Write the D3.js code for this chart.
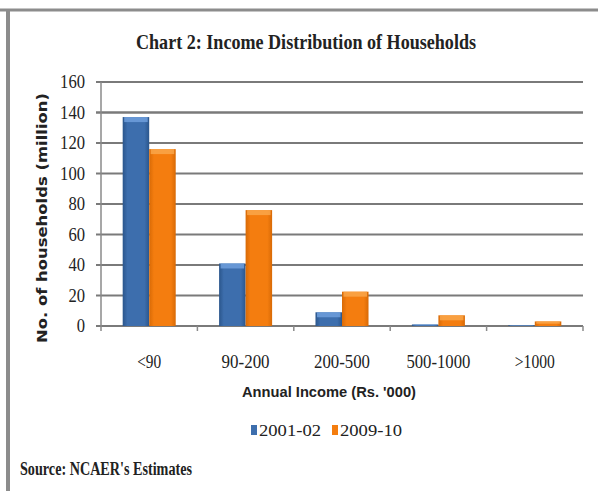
<!DOCTYPE html>
<html>
<head>
<meta charset="utf-8">
<script src="https://cdn.jsdelivr.net/npm/d3@7"></script>
<style>
  body { margin: 0; background: #fff; }
  svg { display: block; }
</style>
</head>
<body>
<div id="chart"></div>
<script>
// chart data
const categories = ["<90", "90-200", "200-500", "500-1000", ">1000"];
const seriesNames = ["2001-02", "2009-10"];
const values2001 = [137, 41, 9, 1, 0.5];
const values2009 = [116, 76, 22.5, 7, 3];
const yTicks = [0, 20, 40, 60, 80, 100, 120, 140, 160];

const W = 598, H = 491;
const margin = {top: 82, right: 15, bottom: 165, left: 101};

const svg = d3.select("#chart").append("svg")
    .attr("width", W)
    .attr("height", H);

// gradients for the bevelled bars
const defs = svg.append("defs");
const palette = [
  {id: "gBlue", edge: "#2b568c", mid: "#3d6ead", cap: "#6f9fdc"},
  {id: "gOrange", edge: "#d86a06", mid: "#f47d0f", cap: "#f9a64a"}
];
palette.forEach(p => {
  const g = defs.append("linearGradient").attr("id", p.id)
      .attr("x1", "0%").attr("x2", "100%").attr("y1", "0%").attr("y2", "0%");
  g.append("stop").attr("offset", "0%").attr("stop-color", p.edge);
  g.append("stop").attr("offset", "18%").attr("stop-color", p.mid);
  g.append("stop").attr("offset", "82%").attr("stop-color", p.mid);
  g.append("stop").attr("offset", "100%").attr("stop-color", p.edge);
});

// frame lines
svg.append("line").attr("x1", 0).attr("x2", W).attr("y1", 10).attr("y2", 10)
    .attr("stroke", "#8c8c8c").attr("stroke-width", 3);
svg.append("line").attr("x1", 8).attr("x2", 8).attr("y1", 9).attr("y2", H)
    .attr("stroke", "#8c8c8c").attr("stroke-width", 4);

const x0 = d3.scaleBand()
    .domain(categories)
    .range([margin.left, W - margin.right])
    .paddingInner(0.45)
    .paddingOuter(0.225);

const x1 = d3.scaleBand()
    .domain(seriesNames)
    .range([0, x0.bandwidth()]);

const y = d3.scaleLinear()
    .domain([0, 160])
    .range([H - margin.bottom, margin.top]);

// gridlines
svg.append("g")
    .selectAll("line")
    .data(yTicks)
    .join("line")
    .attr("x1", margin.left - 5)
    .attr("x2", W - margin.right)
    .attr("y1", d => y(d))
    .attr("y2", d => y(d))
    .attr("stroke", "#7a7a7a")
    .attr("stroke-width", d => d === 140 ? 2.5 : 1.8);

// y axis line
svg.append("line")
    .attr("x1", margin.left).attr("x2", margin.left)
    .attr("y1", y(160)).attr("y2", y(0))
    .attr("stroke", "#8a8a8a").attr("stroke-width", 1.5);

// y tick labels
svg.append("g")
    .selectAll("text")
    .data(yTicks)
    .join("text")
    .attr("x", margin.left - 16)
    .attr("y", d => y(d) + 6)
    .attr("text-anchor", "end")
    .attr("font-family", "Liberation Serif")
    .attr("font-size", 18)
    .attr("textLength", d => String(d).length * 8.3)
    .attr("lengthAdjust", "spacingAndGlyphs")
    .attr("fill", "#222")
    .text(d => d);

// x tick marks at band boundaries
const step = x0.step();
const boundaries = categories.map(c => x0(c) - x0.paddingOuter() * step);
boundaries.push(W - margin.right);
svg.append("g")
    .selectAll("line")
    .data(boundaries)
    .join("line")
    .attr("x1", d => d).attr("x2", d => d)
    .attr("y1", y(0)).attr("y2", y(0) + 5)
    .attr("stroke", "#8a8a8a").attr("stroke-width", 1.5);

// bars
const rows = categories.map((c, i) => ({cat: c, vals: [values2001[i], values2009[i]]}));
const groups = svg.append("g")
    .selectAll("g")
    .data(rows)
    .join("g")
    .attr("transform", d => `translate(${x0(d.cat)},0)`);

const barData = d => d.vals.map((v, i) => ({series: seriesNames[i], v: v, p: palette[i]}));

groups.selectAll("rect.bar")
    .data(barData)
    .join("rect")
    .attr("class", "bar")
    .attr("x", d => x1(d.series))
    .attr("y", d => y(d.v))
    .attr("width", x1.bandwidth())
    .attr("height", d => y(0) - y(d.v))
    .attr("fill", d => `url(#${d.p.id})`);

// lighter top caps
groups.selectAll("rect.cap")
    .data(barData)
    .join("rect")
    .attr("class", "cap")
    .attr("x", d => x1(d.series) + 1.5)
    .attr("y", d => y(d.v))
    .attr("width", x1.bandwidth() - 3)
    .attr("height", d => Math.min(5, (y(0) - y(d.v)) / 2))
    .attr("fill", d => d.p.cap)
    .attr("opacity", 0.85);

// x category labels
svg.append("g")
    .selectAll("text")
    .data(categories)
    .join("text")
    .attr("x", d => x0(d) + x0.bandwidth() / 2)
    .attr("y", 368)
    .attr("text-anchor", "middle")
    .attr("font-family", "Liberation Serif")
    .attr("font-size", 18)
    .attr("textLength", d => d.length * 8)
    .attr("lengthAdjust", "spacingAndGlyphs")
    .attr("fill", "#222")
    .text(d => d);

// title
svg.append("text")
    .attr("x", 136)
    .attr("y", 49)
    .attr("font-family", "Liberation Serif")
    .attr("font-weight", "bold")
    .attr("font-size", 22)
    .attr("textLength", 340)
    .attr("lengthAdjust", "spacingAndGlyphs")
    .attr("fill", "#222")
    .text("Chart 2: Income Distribution  of Households");

// y axis title
svg.append("text")
    .attr("transform", "translate(47,218) rotate(-90)")
    .attr("text-anchor", "middle")
    .attr("font-family", "DejaVu Sans")
    .attr("font-weight", "bold")
    .attr("font-size", 14)
    .attr("textLength", 250)
    .attr("lengthAdjust", "spacingAndGlyphs")
    .attr("fill", "#222")
    .text("No. of households (million)");

// x axis title
svg.append("text")
    .attr("x", 242)
    .attr("y", 397)
    .attr("font-family", "Liberation Sans")
    .attr("font-weight", "bold")
    .attr("font-size", 15)
    .attr("textLength", 174)
    .attr("lengthAdjust", "spacingAndGlyphs")
    .attr("fill", "#222")
    .text("Annual Income (Rs. '000)");

// legend
const legendX = [251, 332];
const legend = svg.append("g")
    .selectAll("g")
    .data(seriesNames)
    .join("g")
    .attr("transform", (d, i) => `translate(${legendX[i]},428)`);
legend.append("rect")
    .attr("x", 0).attr("y", -3)
    .attr("width", 6).attr("height", 10)
    .attr("fill", (d, i) => palette[i].mid);
legend.append("text")
    .attr("x", 8)
    .attr("y", 8)
    .attr("font-family", "Liberation Serif")
    .attr("font-size", 17)
    .attr("textLength", 62)
    .attr("lengthAdjust", "spacingAndGlyphs")
    .attr("fill", "#222")
    .text(d => d);

// source note
svg.append("text")
    .attr("x", 20)
    .attr("y", 475)
    .attr("font-family", "Liberation Serif")
    .attr("font-weight", "bold")
    .attr("font-size", 18)
    .attr("textLength", 172)
    .attr("lengthAdjust", "spacingAndGlyphs")
    .attr("fill", "#222")
    .text("Source: NCAER's Estimates");
</script>
</body>
</html>
